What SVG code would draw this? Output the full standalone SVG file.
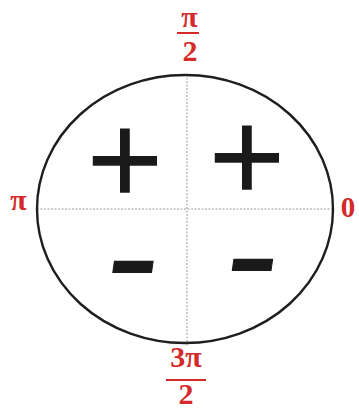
<svg xmlns="http://www.w3.org/2000/svg" width="359" height="411" viewBox="0 0 359 411">
<style>
.axis{stroke:#9a9a9a;stroke-width:1;stroke-dasharray:2 1.5;fill:none}
.lbl{font-family:"Liberation Serif","Times New Roman",serif;fill:#d42a2a;text-anchor:middle;font-weight:bold}
.bar{stroke:#d42a2a;stroke-width:2}
.sign{font-family:"DejaVu Sans",sans-serif;fill:#1a1a1a;stroke:#1a1a1a;stroke-width:1.6;text-anchor:middle}
</style>
<rect width="359" height="411" fill="#ffffff"/>
<g id="connectors">
<line class="axis" x1="187" y1="74" x2="187" y2="346"/>
<line class="axis" x1="37" y1="209" x2="333" y2="209"/>
</g>
<g id="circle">
<ellipse cx="185" cy="209" rx="148" ry="134" fill="none" stroke="#1e1e1e" stroke-width="2.4"/>
</g>
<g id="label-top">
<text class="lbl" x="189.5" y="27" font-size="30">π</text>
<line class="bar" x1="177" y1="33" x2="199" y2="33"/>
<text class="lbl" x="190" y="61" font-size="30">2</text>
</g>
<g id="label-left">
<text class="lbl" x="18.5" y="210" font-size="30">π</text>
</g>
<g id="label-right">
<text class="lbl" x="348" y="217" font-size="29">0</text>
</g>
<g id="label-bottom">
<text class="lbl" x="186" y="367" font-size="30">3π</text>
<line class="bar" x1="166" y1="380" x2="206" y2="380"/>
<text class="lbl" x="186" y="404" font-size="30">2</text>
</g>
<g id="signs">
<text class="sign" x="125" y="192" font-size="100">+</text>
<text class="sign" x="247" y="189" font-size="100">+</text>
<text class="sign" transform="translate(127.5,306) skewX(-8) scale(0.62,1.25)" x="0" y="0" font-size="100">−</text>
<text class="sign" transform="translate(247,304) skewX(-8) scale(0.62,1.25)" x="0" y="0" font-size="100">−</text>
</g>
</svg>
